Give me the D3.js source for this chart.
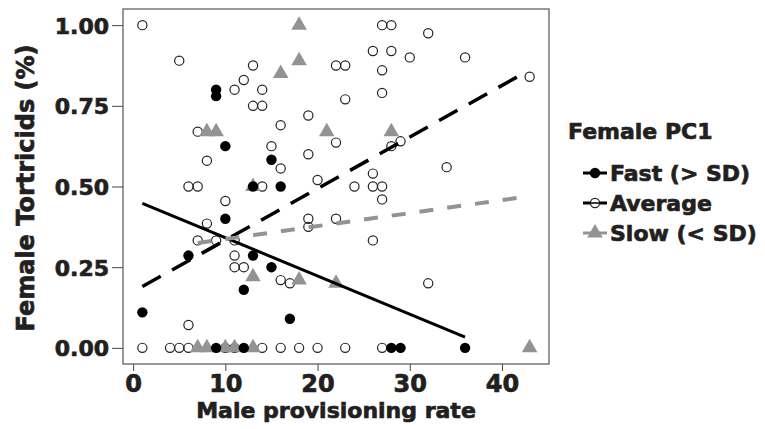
<!DOCTYPE html>
<html lang="en">
<head>
<meta charset="utf-8">
<script src="https://cdn.jsdelivr.net/npm/d3@7"></script>
<style type="text/css">
body {
	margin: 0;
	background-color: #ffffff;
}
text {
	font-family: 'DejaVu Sans', sans-serif;
	font-weight: bold;
	fill: #231f20;
	stroke: #231f20;
	stroke-width: 0.7px;
}
.axis path { display: none; }
.axis line { stroke: #444; stroke-width: 1; }
</style>
</head>
<body>
<script type="text/javascript">

// Female PC1 groups: [male provisioning rate, female tortricids]
var fastPts = [[9,0.80],[9,0.78],[10,0.625],[13,0.50],[16,0.50],[15,0.583],[10,0.40],[6,0.286],
	[13,0.286],[15,0.25],[12,0.18],[17,0.09],[1,0.11],[9,0],[12,0],[28,0],[29,0],[36,0]];

var averagePts = [[1,1.00],[5,0.89],[11,0.80],[12,0.83],[13,0.875],[13,0.75],[14,0.80],[14,0.75],
	[27,1.00],[28,1.00],[26,0.92],[28,0.92],[30,0.90],[22,0.875],[23,0.875],[27,0.86],[23,0.77],
	[27,0.79],[19,0.72],[16,0.69],[32,0.975],[36,0.90],[43,0.84],[7,0.67],[8,0.58],[6,0.50],
	[7,0.50],[10,0.455],[8,0.385],[7,0.333],[9,0.333],[11,0.333],[22,0.636],[29,0.64],[28,0.625],
	[15,0.625],[19,0.60],[16,0.556],[14,0.50],[20,0.52],[26,0.54],[24,0.50],[26,0.50],[27,0.50],
	[27,0.46],[19,0.40],[19,0.375],[22,0.40],[26,0.333],[34,0.56],[6,0.071],[11,0.286],[11,0.25],
	[12,0.25],[16,0.21],[17,0.20],[32,0.20],
	[1,0],[4,0],[5,0],[6,0],[10,0],[11,0],[14,0],[16,0],[18,0],[20,0],[23,0],[27,0]];

var slowPts = [[18,1.00],[18,0.89],[16,0.85],[21,0.67],[28,0.67],[8,0.67],[9,0.67],[13,0.50],
	[13,0.22],[18,0.21],[22,0.20],[7,0],[8,0],[10,0],[11,0],[13,0],[43,0]];

// fitted lines, endpoints
var fastFit = [[1,0.448],[36,0.033]];
var averageFit = [[1,0.19],[42.3,0.85]];
var slowFit = [[7,0.325],[43,0.47]];

var xTicks = [0,10,20,30,40];
var yTicks = [0,0.25,0.5,0.75,1];
var legendLabels = ["Fast (> SD)", "Average", "Slow (< SD)"];

var width = 765, height = 429;
var grey = "#939393";

var svg = d3.select("body").append("svg")
	.attr("width", width)
	.attr("height", height);

var x = d3.scaleLinear().domain([-1.1, 45.1]).range([123, 549]);
var y = d3.scaleLinear().domain([-0.05, 1.05]).range([364, 9]);

// axes
svg.append("g")
	.attr("class", "axis")
	.attr("transform", "translate(0,364)")
	.call(d3.axisBottom(x).tickValues(xTicks).tickSize(7).tickPadding(4))
	.selectAll("text").style("font-size", "24px");

svg.append("g")
	.attr("class", "axis")
	.attr("transform", "translate(123,0)")
	.call(d3.axisLeft(y).tickValues(yTicks).tickSize(11).tickPadding(3).tickFormat(d3.format(".2f")))
	.selectAll("text").style("font-size", "22px").attr("dy", "0.36em");

// panel border
svg.append("rect")
	.attr("x", 123).attr("y", 9)
	.attr("width", 426).attr("height", 355)
	.style("fill", "none")
	.style("stroke", "#555")
	.style("stroke-width", 1.2);

var line = d3.line().x(function(d){ return x(d[0]); }).y(function(d){ return y(d[1]); });

var tri = d3.symbol().type(d3.symbolTriangle).size(105);

// points
svg.append("g").selectAll("circle")
	.data(averagePts).enter().append("circle")
	.attr("cx", function(d){ return x(d[0]); })
	.attr("cy", function(d){ return y(d[1]); })
	.attr("r", 4.6)
	.style("fill", "none")
	.style("stroke", "#222")
	.style("stroke-width", 1.2);

svg.append("g").selectAll("path")
	.data(slowPts).enter().append("path")
	.attr("d", tri)
	.attr("transform", function(d){ return "translate(" + x(d[0]) + "," + y(d[1]) + ")"; })
	.style("fill", grey);

svg.append("g").selectAll("circle")
	.data(fastPts).enter().append("circle")
	.attr("cx", function(d){ return x(d[0]); })
	.attr("cy", function(d){ return y(d[1]); })
	.attr("r", 5.2)
	.style("fill", "#000");

// fit lines
svg.append("path").attr("d", line(fastFit))
	.style("fill", "none").style("stroke", "#000").style("stroke-width", 3);
svg.append("path").attr("d", line(averageFit))
	.style("fill", "none").style("stroke", "#000").style("stroke-width", 3.5)
	.style("stroke-dasharray", "21,13");
svg.append("path").attr("d", line(slowFit))
	.style("fill", "none").style("stroke", grey).style("stroke-width", 4)
	.style("stroke-dasharray", "14,14");

// axis titles
svg.append("text")
	.attr("x", 336).attr("y", 418)
	.attr("text-anchor", "middle")
	.style("font-size", "22px")
	.text("Male provisioning rate");

svg.append("text")
	.attr("transform", "translate(34,188) rotate(-90)")
	.attr("text-anchor", "middle")
	.style("font-size", "24px")
	.text("Female Tortricids (%)");

// legend
var legend = svg.append("g");
legend.append("text")
	.attr("x", 568).attr("y", 139)
	.style("font-size", "22px")
	.text("Female PC1");

var keyY = [173, 203, 233];
legendLabels.forEach(function(lab, i) {
	var k = legend.append("g").attr("transform", "translate(0," + keyY[i] + ")");
	k.append("line")
		.attr("x1", 583).attr("x2", 607)
		.style("stroke", i == 2 ? grey : "#000")
		.style("stroke-width", 3);
	if (i == 0) {
		k.append("circle").attr("cx", 595).attr("r", 5.2).style("fill", "#000");
	} else if (i == 1) {
		k.append("circle").attr("cx", 595).attr("r", 4.6)
			.style("fill", "#fff").style("stroke", "#222").style("stroke-width", 1.2);
		k.append("line").attr("x1", 590).attr("x2", 600)
			.style("stroke", "#000").style("stroke-width", 1.5);
	} else {
		k.append("path").attr("d", tri).attr("transform", "translate(595,0)").style("fill", grey);
	}
	k.append("text")
		.attr("x", 610).attr("y", 8)
		.style("font-size", "22px")
		.text(lab);
});

</script>
</body>
</html>
